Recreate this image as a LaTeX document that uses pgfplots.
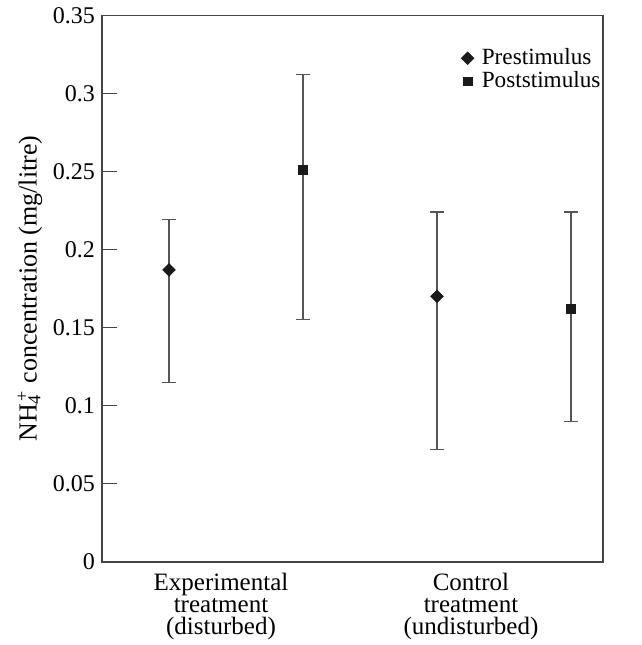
\documentclass[border=0pt]{standalone}
\usepackage{pgfplots}
\pgfplotsset{compat=1.18}
\usepackage{fontspec}
\setmainfont{Liberation Serif}

\definecolor{axisgray}{HTML}{444444}
\definecolor{bargray}{HTML}{555555}
\definecolor{markblack}{HTML}{1A1A1A}

\begin{document}
\begin{tikzpicture}
\begin{axis}[
    at={(0,0)}, anchor=south west,
    scale only axis,
    width=250.5pt, height=273.4pt,
    xmin=0, xmax=4,
    ymin=0, ymax=0.35,
    font=\fontsize{12}{11.5}\selectfont,
    /pgf/number format/assume math mode=true,
    /pgf/number format/fixed,
    /pgf/number format/precision=2,
    axis line style={axisgray, line width=0.6pt},
    tick style={axisgray, line width=0.6pt},
    tick align=inside,
    ytick={0,0.05,0.1,0.15,0.2,0.25,0.3,0.35},
    ytick pos=left,
    major tick length=7.5pt,
    xtick={0.95,2.946},
    xticklabels={Experimental\\treatment\\(disturbed), Control\\treatment\\(undisturbed)},
    xticklabel style={align=center, font=\fontsize{12.5}{11}\selectfont, inner sep=2pt, yshift=-3.5pt},
    x tick style={draw=none},
    extra x ticks={2.148},
    extra x tick labels={},
    extra x tick style={tick style={axisgray, line width=0.6pt}, xtick pos=bottom},
    ylabel={NH\rlap{\textsubscript{4}}\textsuperscript{\,+} concentration (mg/litre)},
    every axis y label/.style={at={(axis description cs:-0.144,0.5)}, rotate=90, anchor=center,
        font=\fontsize{13}{13}\selectfont},
    legend style={at={(axis description cs:0.7166,0.943)}, anchor=north west,
        draw=none, fill=none, inner sep=0pt, row sep=0pt,
        nodes={inner sep=1pt}, font=\fontsize{11.6}{12}\selectfont,
        /tikz/every odd column/.append style={column sep=3pt}},
    legend cell align=left,
    legend image code/.code={\draw[#1] plot coordinates {(0pt,0pt)};},
    error bars/y dir=both,
    error bars/y explicit,
    error bars/error bar style={bargray, line width=0.6pt},
    error bars/error mark options={rotate=90, mark size=3.3pt, bargray, line width=0.6pt},
]

% Prestimulus
\addplot[only marks, mark=square*, mark options={rotate=45}, mark size=2.2pt, color=markblack] coordinates {
    (0.535,0.187) += (0,0.032) -= (0,0.072)
    (2.675,0.170) += (0,0.054) -= (0,0.098)
};
\addlegendentry{Prestimulus}

% Poststimulus
\addplot[only marks, mark=square*, mark size=2.2pt, color=markblack] coordinates {
    (1.605,0.251) += (0,0.061) -= (0,0.096)
    (3.745,0.162) += (0,0.062) -= (0,0.072)
};
\addlegendentry{Poststimulus}

\end{axis}
\path (-51pt,-41.5pt) rectangle (270pt,281pt);
\end{tikzpicture}
\end{document}
